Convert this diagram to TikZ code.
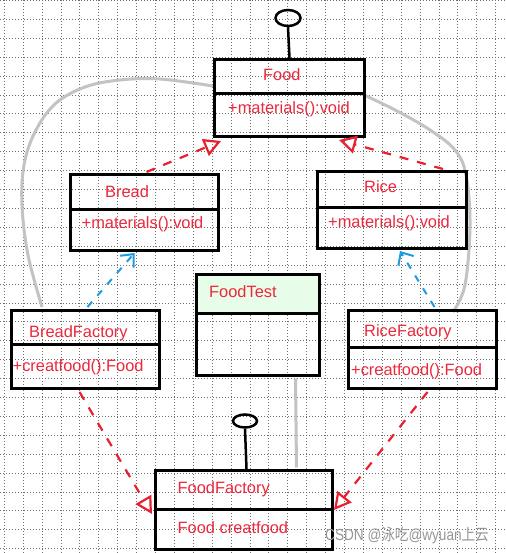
\documentclass[tikz,border=0pt]{standalone}
\usepackage{graphicx}
\usepackage{fontspec}
\setmainfont{Liberation Sans}
\newfontfamily\cjk{Noto Sans CJK SC}
\usetikzlibrary{arrows.meta,shapes.geometric,calc}
\definecolor{umlred}{RGB}{232,32,48}
\definecolor{txtred}{RGB}{236,40,60}
\definecolor{umlblue}{RGB}{30,155,225}
\definecolor{curvegray}{RGB}{195,195,195}
\definecolor{gridgray}{RGB}{110,110,110}
\definecolor{testgreen}{RGB}{232,252,234}
\definecolor{wmgray}{RGB}{150,150,150}
\begin{document}
\begin{tikzpicture}[x=1pt,y=-1pt,
  classbox/.style={draw=black, line width=3pt, anchor=north west, inner sep=0pt},
  divider/.style={draw=black, line width=3pt},
  lbl/.style={anchor=base west, text=txtred, font=\fontsize{16.4}{18}\selectfont, inner sep=0pt},
  ball/.style={ellipse, draw=black, line width=2.5pt, inner sep=0pt},
  stem/.style={draw=black, line width=2.5pt},
  redarrow/.style={draw=umlred, line width=2.2pt, dash pattern=on 9pt off 9pt,
    -{Triangle[open,length=17pt,width=18pt,line width=2.2pt]}},
  bluearrow/.style={draw=umlblue, line width=2pt, dash pattern=on 7pt off 8pt,
    -{Straight Barb[length=10pt,width=18pt,line width=2pt]}},
  graycurve/.style={draw=curvegray, line width=3pt},
  gridline/.style={draw=gridgray, line width=0.8pt, dash pattern=on 1pt off 2pt},
  wm/.style={anchor=base west, text=wmgray, font=\fontsize{16}{18}\selectfont, inner sep=0pt}
]
\useasboundingbox (0,0) rectangle (505,553);
\fill[white] (0,0) rectangle (505,553);
% grid
\foreach \k in {0,...,26} {\draw[gridline] ({4.2+18.9*\k},0) -- ({4.2+18.9*\k},553);}
\foreach \k in {0,...,29} {\draw[gridline] (0,{0.5+18.9*\k}) -- (505,{0.5+18.9*\k});}

% gray association curves (behind boxes)
\draw[graycurve] plot[smooth, tension=0.6] coordinates {(42,307) (28,255) (22,205) (24,165) (35,132) (55,104) (85,87) (120,80) (160,79) (213,86)};
\draw[graycurve] plot[smooth, tension=0.6] coordinates {(362,94) (397,111) (430,130) (455,150) (466,175) (470,225) (465,285) (453,312)};

% class boxes
\node[classbox, minimum width=150pt, minimum height=77pt] (food) at (213,58) {};
\node[classbox, minimum width=148pt, minimum height=76pt] (bread) at (69,173) {};
\node[classbox, minimum width=149pt, minimum height=77pt] (rice) at (316,170) {};
\node[classbox, minimum width=148pt, minimum height=78pt] (bf) at (10,309) {};
\node[classbox, minimum width=148pt, minimum height=78pt] (rf) at (347,309) {};
\node[classbox, minimum width=123pt, minimum height=101pt] (ftest) at (195,273) {};
\node[classbox, minimum width=177pt, minimum height=79pt] (ff) at (154,469) {};

% FoodTest header fill
\fill[testgreen] ($(ftest.north west)+(1.5,1.5)$) rectangle ($(ftest.north east)+(-1.5,40)$);
\node[classbox, minimum width=123pt, minimum height=101pt] at (195,273) {};

% gray line FoodTest -> FoodFactory
\draw[graycurve] ($(ftest.south)+(37.5,1.5)$) -- ($(ff.north)+(52.5,-1.5)$);

% dividers
\draw[divider] ($(food.north west)+(0,36)$) -- ($(food.north east)+(0,36)$);
\draw[divider] ($(bread.north west)+(0,36)$) -- ($(bread.north east)+(0,36)$);
\draw[divider] ($(rice.north west)+(0,37)$) -- ($(rice.north east)+(0,37)$);
\draw[divider] ($(bf.north west)+(0,35)$) -- ($(bf.north east)+(0,35)$);
\draw[divider] ($(rf.north west)+(0,38)$) -- ($(rf.north east)+(0,38)$);
\draw[divider] ($(ftest.north west)+(0,40)$) -- ($(ftest.north east)+(0,40)$);
\draw[divider] ($(ff.north west)+(0,40)$) -- ($(ff.north east)+(0,40)$);

% lollipops
\node[ball, minimum width=25pt, minimum height=16pt] (foodball) at (288,18) {};
\draw[stem] (foodball.south) -- (food.north);
\node[ball, minimum width=24pt, minimum height=13pt] (ffball) at (245,421) {};
\draw[stem] (ffball.south) -- ($(ff.north)+(2.5,0)$);

% texts
\node[lbl] (t1) at (263,81) {Food};
\node[lbl] (t2) at (228,114) {+materials():void};
\node[lbl] (t3) at (105,197.5) {Bread};
\node[lbl] (t4) at (81.5,228.5) {+materials():void};
\node[lbl] (t5) at (364,192.5) {Rice};
\node[lbl] (t6) at (328,227) {+materials():void};
\node[lbl] (t7) at (29,337.5) {BreadFactory};
\node[lbl] (t8) at (12.5,371) {+creatfood():Food};
\node[lbl] (t9) at (364,336) {RiceFactory};
\node[lbl] (t10) at (351,375) {+creatfood():Food};
\node[lbl] (t11) at (209,297.5) {FoodTest};
\node[lbl] (t12) at (177.5,493.5) {FoodFactory};
\node[lbl] (t13) at (177.5,533.5) {Food creatfood};

% realization arrows (red dashed, open triangle)
\draw[redarrow] ($(bread.north)+(2,-1)$) -- ($(food.south west)+(8,3)$);
\draw[redarrow] ($(rice.north)+(51,-1)$) -- ($(food.south east)+(-27,2)$);
\draw[redarrow] ($(bf.south)+(-6,2)$) -- ($(ff.west)+(-2,4)$);
\draw[redarrow] ($(rf.south)+(5,2)$) -- ($(ff.east)+(0,0)$);

% dependency arrows (blue dashed, open V)
\draw[bluearrow] ($(bf.north)+(2,-2)$) -- ($(bread.south)+(-10,1)$);
\draw[bluearrow] ($(rf.north)+(12,-2)$) -- ($(rice.south)+(8,1)$);

% watermark
\node[wm] (w1) at (325,540) {\scalebox{0.85}[1]{CSDN @{\cjk 泳吃}@wyuan{\cjk 上云}}};
\end{tikzpicture}
\end{document}
